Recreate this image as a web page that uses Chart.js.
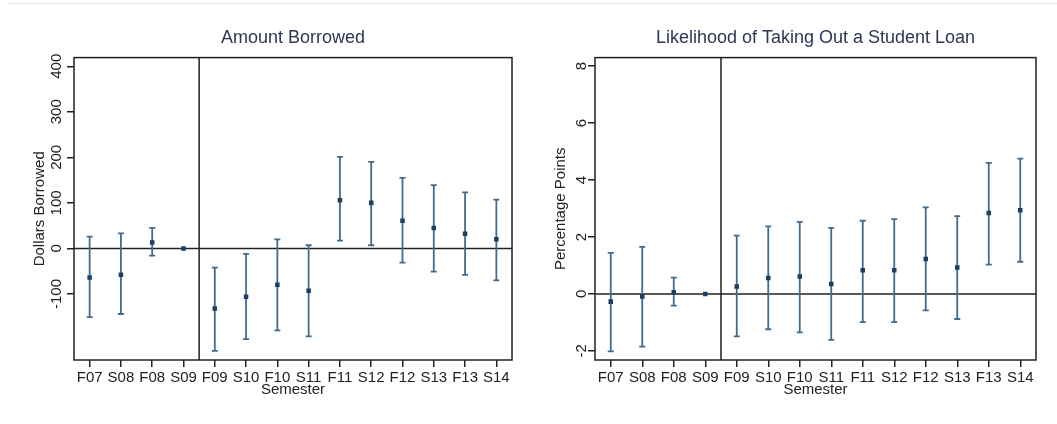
<!DOCTYPE html>
<html>
<head>
  <title>Amount Borrowed / Likelihood of Taking Out a Student Loan</title>
  <script src="https://cdn.jsdelivr.net/npm/chart.js"></script>
  <style>
    body { margin: 0; background: #fff; }
    #topline { position: absolute; left: 7px; right: 0; top: 3px; height: 1px; background: #e6eaec; }
    .panel { position: absolute; top: 0; }
  </style>
</head>
<body>
  <div id="topline"></div>
  <div class="panel" style="left:0px"><canvas id="borrow" width="530" height="424"></canvas></div>
  <div class="panel" style="left:530px"><canvas id="loan" width="527" height="424"></canvas></div>
  <script>
    const semesters = ['F07', 'S08', 'F08', 'S09', 'F09', 'S10', 'F10', 'S11', 'F11', 'S12', 'F12', 'S13', 'F13', 'S14'];

    // amount borrowed (dollars): estimate and 95% CI
    const borrowEst  = [-64, -58, 13, 0, -132, -106, -80, -93, 106, 100, 61, 45, 32, 20];
    const borrowLow  = [-151, -144, -16, 0, -225, -199, -180, -193, 17, 7, -31, -51, -58, -70];
    const borrowHigh = [26, 33, 45, 0, -42, -12, 20, 7, 201, 190, 155, 139, 123, 107];
    const borrowTicks = [-100, 0, 100, 200, 300, 400];

    // likelihood of taking a loan (percentage points)
    const loanEst  = [-0.27, -0.09, 0.06, 0, 0.26, 0.56, 0.61, 0.35, 0.83, 0.83, 1.23, 0.93, 2.84, 2.94];
    const loanLow  = [-2.02, -1.85, -0.41, 0, -1.49, -1.24, -1.35, -1.61, -0.99, -0.99, -0.58, -0.88, 1.03, 1.13];
    const loanHigh = [1.44, 1.65, 0.57, 0, 2.05, 2.37, 2.53, 2.32, 2.57, 2.63, 3.04, 2.73, 4.6, 4.75];
    const loanTicks = [-2, 0, 2, 4, 6, 8];

    const FONT = 'Liberation Sans, Arial, sans-serif';
    const INK = '#222';
    const WHISKER = '#416b8f';
    const MARKER = '#1c3f62';
    const policyAt = 3.5; // between S09 and F09

    // error bars, zero line, policy line and the box around the plot
    const errorBars = {
      id: 'errorBars',
      beforeDatasetsDraw(chart, args, opts) {
        const { ctx, chartArea: a, scales: { x, y } } = chart;
        ctx.save();
        ctx.strokeStyle = INK;
        ctx.lineWidth = 1.5;
        const y0 = y.getPixelForValue(0);
        const xv = x.getPixelForValue(policyAt);
        ctx.beginPath();
        ctx.moveTo(a.left, y0); ctx.lineTo(a.right, y0);
        ctx.moveTo(xv, a.top); ctx.lineTo(xv, a.bottom);
        ctx.stroke();

        ctx.strokeStyle = WHISKER;
        ctx.lineWidth = 1.8;
        opts.low.forEach((lo, i) => {
          const hi = opts.high[i];
          if (lo === hi) return;
          const px = x.getPixelForValue(i);
          const pl = y.getPixelForValue(lo);
          const ph = y.getPixelForValue(hi);
          ctx.beginPath();
          ctx.moveTo(px, pl); ctx.lineTo(px, ph);
          ctx.moveTo(px - 3, pl); ctx.lineTo(px + 3, pl);
          ctx.moveTo(px - 3, ph); ctx.lineTo(px + 3, ph);
          ctx.stroke();
        });
        ctx.restore();
      },
      afterDraw(chart) {
        const { ctx, chartArea: a } = chart;
        ctx.save();
        ctx.strokeStyle = INK;
        ctx.lineWidth = 1.5;
        ctx.strokeRect(a.left, a.top, a.right - a.left, a.bottom - a.top);
        ctx.restore();
      }
    };

    function makeChart(id, cfg) {
      return new Chart(document.getElementById(id), {
        type: 'line',
        data: {
          labels: semesters,
          datasets: [{
            data: cfg.est,
            showLine: false,
            pointStyle: 'rect',
            pointRadius: 3.2,
            pointBorderWidth: 0,
            pointBackgroundColor: MARKER
          }]
        },
        options: {
          responsive: false,
          animation: false,
          layout: { padding: { left: 0, right: cfg.padRight, top: 0, bottom: 24 } },
          plugins: {
            legend: { display: false },
            tooltip: { enabled: false },
            title: {
              display: true,
              text: cfg.title,
              fullSize: false,
              color: '#2d3656',
              font: { family: FONT, size: 18, weight: 'normal' },
              padding: { top: 27, bottom: 9 }
            },
            errorBars: { low: cfg.low, high: cfg.high }
          },
          scales: {
            x: {
              offset: true,
              border: { display: false },
              grid: { drawOnChartArea: false, drawTicks: true, tickLength: 7, color: INK, lineWidth: 1.5 },
              ticks: { color: INK, font: { family: FONT, size: 15 }, padding: 2, maxRotation: 0, minRotation: 0, autoSkip: false },
              title: { display: true, text: 'Semester', color: INK, font: { family: FONT, size: 15 }, padding: { top: 0, bottom: 1 } },
              afterFit: s => { s.height = 40; }
            },
            y: {
              min: cfg.min,
              max: cfg.max,
              afterBuildTicks: s => { s.ticks = cfg.ticks.map(v => ({ value: v })); },
              border: { display: false },
              grid: { drawOnChartArea: false, drawTicks: true, tickLength: 7, color: INK, lineWidth: 1.5 },
              ticks: { color: INK, font: { family: FONT, size: 15 }, padding: cfg.tickPad, minRotation: 90, maxRotation: 90, crossAlign: 'center' },
              title: { display: true, text: cfg.yTitle, color: INK, font: { family: FONT, size: 15 }, padding: { top: cfg.titlePad, bottom: 0 } },
              afterFit: s => { s.width = cfg.axisWidth; }
            }
          }
        },
        plugins: [errorBars]
      });
    }

    makeChart('borrow', {
      title: 'Amount Borrowed', yTitle: 'Dollars Borrowed',
      est: borrowEst, low: borrowLow, high: borrowHigh, ticks: borrowTicks,
      min: -245, max: 419, axisWidth: 74, padRight: 18, tickPad: -5, titlePad: 31
    });

    makeChart('loan', {
      title: 'Likelihood of Taking Out a Student Loan', yTitle: 'Percentage Points',
      est: loanEst, low: loanLow, high: loanHigh, ticks: loanTicks,
      min: -2.32, max: 8.3, axisWidth: 65, padRight: 21, tickPad: -1, titlePad: 22
    });
  </script>
</body>
</html>
